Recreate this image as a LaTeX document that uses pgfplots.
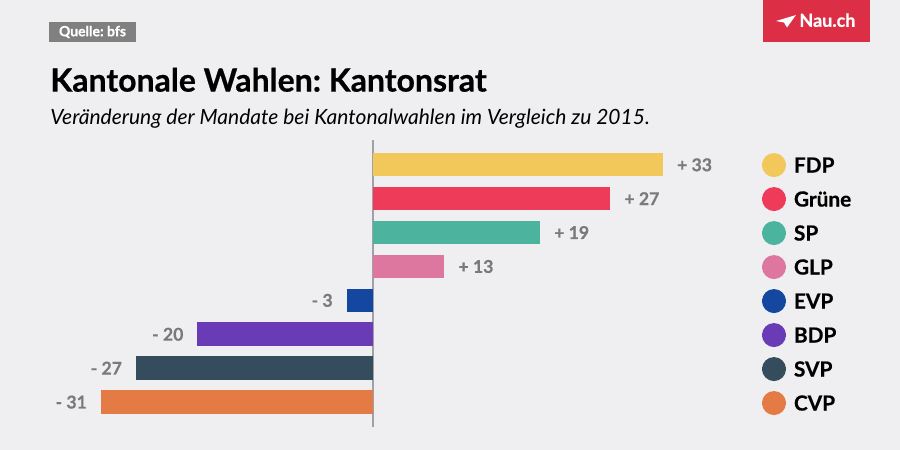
\documentclass[border=0pt]{standalone}
\usepackage{fontspec}
\setmainfont{Lato}[BoldFeatures={FakeBold=0.6}]
\usepackage{pgfplots}
\pgfplotsset{compat=1.18}
\frenchspacing

\definecolor{bg}{HTML}{EFEFF1}
\definecolor{cFDP}{HTML}{F2C85B}
\definecolor{cGruene}{HTML}{EF3B5A}
\definecolor{cSP}{HTML}{4BB39E}
\definecolor{cGLP}{HTML}{DE779F}
\definecolor{cEVP}{HTML}{1347A0}
\definecolor{cBDP}{HTML}{6A3BB7}
\definecolor{cSVP}{HTML}{354C5D}
\definecolor{cCVP}{HTML}{E47B45}
\definecolor{labelgrey}{HTML}{7A7A7A}
\definecolor{srcgrey}{HTML}{808080}
\definecolor{zerogrey}{HTML}{A0A0A8}
\definecolor{naured}{HTML}{DC2F45}

\pgfplotsset{
  pos/.style={nodes near coords style={anchor=west, xshift=7pt}},
  neg/.style={nodes near coords style={anchor=east, xshift=-6.8pt}},
}

\begin{document}
\begin{tikzpicture}
% canvas: 1px = 0.5pt, y downwards
\fill[bg] (0,0) rectangle (450pt,-225pt);
\useasboundingbox (0,0) rectangle (450pt,-225pt);

% source tag
\fill[srcgrey] (24.5pt,-11pt) rectangle (68pt,-21pt);
\node[text=white, font=\fontsize{7}{8}\selectfont\bfseries, inner sep=0pt] at (46.25pt,-16pt) {Quelle: bfs};

% logo
\fill[naured] (381.5pt,0pt) rectangle (435pt,-21pt);
\fill[white] (388pt,-10.5pt) -- (398pt,-7.5pt) -- (393.5pt,-13.75pt) -- (392pt,-11.25pt) -- cycle;
\node[anchor=base west, text=white, font=\fontsize{9}{10}\selectfont\bfseries, inner sep=0pt] at (399.5pt,-13.4pt) {Nau.ch};

% titles
\node[anchor=base west, inner sep=0pt, font=\fontsize{16}{19}\selectfont\bfseries] at (25pt,-45.8pt) {Kantonale Wahlen: Kantonsrat};
\node[anchor=base west, inner sep=0pt, font=\fontsize{10.5}{12}\selectfont\itshape] at (25pt,-62.3pt) {Veränderung der Mandate bei Kantonalwahlen im Vergleich zu 2015.};

\begin{axis}[
  at={(20pt,-213.5pt)}, anchor=south west,
  scale only axis, width=350pt, height=143.5pt,
  xmin=-37.93, xmax=41.80, ymin=-0.729, ymax=7.737,
  y dir=reverse,
  hide axis, clip=false,
  xbar, bar width=11.75pt, bar shift=0pt,
  point meta=explicit symbolic,
  nodes near coords,
  nodes near coords style={font=\fontsize{8.8}{10}\selectfont\bfseries, text=labelgrey, inner sep=0pt, text depth=0pt},
  legend image code/.code={\path (0pt,-1pt) rectangle (12pt,1pt); \fill[overlay] (6pt,0pt) circle (6pt);},
  legend style={at={(1.0314,0.972)}, anchor=north west, draw=none, fill=none,
    inner sep=0pt, outer sep=0pt, row sep=0pt, column sep=4pt,
    font=\fontsize{10.4}{12}\selectfont\bfseries,
    nodes={inner sep=0pt, text height=12.25pt, text depth=4.75pt}},
  legend cell align=left,
]
\draw[zerogrey, line width=0.6pt] (axis cs:0,-0.729) -- (axis cs:0,7.737);
\addplot[draw=none, fill=cFDP, pos] coordinates {(33,0) [+ 33]};
\addlegendentry{FDP}
\addplot[draw=none, fill=cGruene, pos] coordinates {(27,1) [+ 27]};
\addlegendentry{Grüne}
\addplot[draw=none, fill=cSP, pos] coordinates {(19,2) [+ 19]};
\addlegendentry{SP}
% bar drawn shorter than its label in the source
\addplot[draw=none, fill=cGLP, pos] coordinates {(8.1,3) [+ 13]};
\addlegendentry{GLP}
\addplot[draw=none, fill=cEVP, neg] coordinates {(-3,4) [- 3]};
\addlegendentry{EVP}
\addplot[draw=none, fill=cBDP, neg] coordinates {(-20,5) [- 20]};
\addlegendentry{BDP}
\addplot[draw=none, fill=cSVP, neg] coordinates {(-27,6) [- 27]};
\addlegendentry{SVP}
\addplot[draw=none, fill=cCVP, neg] coordinates {(-31,7) [- 31]};
\addlegendentry{CVP}
\end{axis}
\end{tikzpicture}
\end{document}
